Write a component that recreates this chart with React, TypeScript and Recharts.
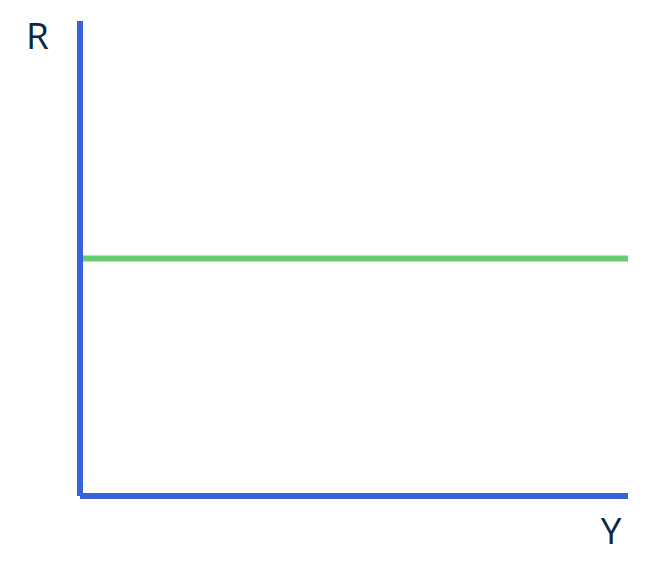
import { Label, Line, LineChart, XAxis, YAxis } from "recharts";

// one flat series across the whole x range
const xValues = [0, 1];
const rValues = [50, 50];
const xDomain = [0, 1];
const yDomain = [0, 100];
const xTitle = "Y";
const yTitle = "R";

const data = xValues.map((x, i) => ({ x, r: rValues[i] }));

const AXIS = "#3a62dc";
const LINE = "#66ce70";
const TEXT = "#0b2947";

export default function App() {
  return (
    <div style={{ position: "absolute", left: 0, top: 0, background: "#fff" }}>
      <LineChart width={647} height={577} data={data} margin={{ top: 21, right: 19, left: 0, bottom: 0 }}>
        <Line
          type="linear"
          dataKey="r"
          stroke={LINE}
          strokeWidth={6}
          dot={false}
          isAnimationActive={false}
        />
        <XAxis
          dataKey="x"
          type="number"
          domain={xDomain}
          height={81}
          tick={false}
          tickLine={false}
          axisLine={{ stroke: AXIS, strokeWidth: 6 }}
        >
          <Label
            content={({ viewBox }: any) => (
              <text
                x={viewBox.x + viewBox.width - 17}
                y={viewBox.y + 48}
                textAnchor="middle"
                fontFamily="Open Sans"
                fontSize={37}
                fill={TEXT}
              >
                {xTitle}
              </text>
            )}
          />
        </XAxis>
        <YAxis
          type="number"
          domain={yDomain}
          width={80}
          tick={false}
          tickLine={false}
          axisLine={{ stroke: AXIS, strokeWidth: 6 }}
        >
          <Label
            content={({ viewBox }: any) => (
              <text
                x={viewBox.x + 37.5}
                y={viewBox.y + 28}
                textAnchor="middle"
                fontFamily="Open Sans"
                fontSize={37}
                fill={TEXT}
              >
                {yTitle}
              </text>
            )}
          />
        </YAxis>
      </LineChart>
    </div>
  );
}
